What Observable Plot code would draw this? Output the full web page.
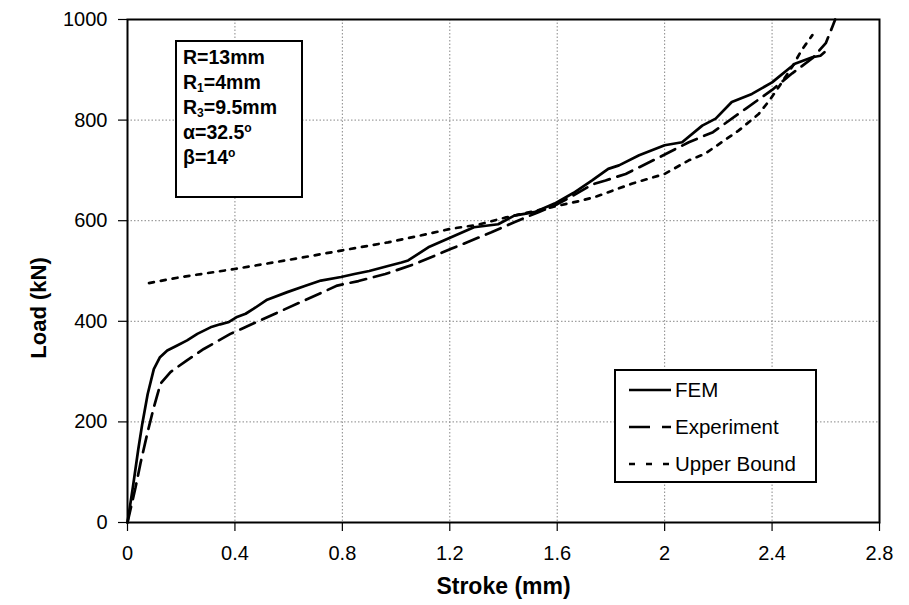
<!DOCTYPE html>
<html>
<head>
<meta charset="utf-8">
<script src="https://cdn.jsdelivr.net/npm/d3@7"></script>
<script src="https://cdn.jsdelivr.net/npm/@observablehq/plot@0.6"></script>
<style>
  html, body { margin: 0; padding: 0; background: #fff; }
  #wrap { position: relative; width: 909px; height: 605px; font-family: Arial, "Liberation Sans", sans-serif; }
  #params { position: absolute; left: 175px; top: 40px; width: 118px; height: 151px; border: 2px solid #000; background: #fff;
            font-weight: bold; font-size: 19.5px; line-height: 25px; padding: 3px 0 0 6px; box-sizing: content-box; color: #000; }
  #params div { white-space: nowrap; }
  #params sub { font-size: 0.62em; vertical-align: -0.25em; line-height: 0; }
  #params sup { font-size: 0.62em; vertical-align: 0.55em; line-height: 0; }
  #legend { position: absolute; left: 614px; top: 369px; width: 199px; height: 110px; border: 2px solid #000; background: #fff; color: #000; font-size: 20.5px; }
  #legend .row { position: absolute; left: 13px; height: 24px; display: flex; align-items: center; white-space: nowrap; }
  #legend svg { margin-right: 4px; }
</style>
</head>
<body>
<div id="wrap"></div>
<script>
// ---- data ----
const femStroke = [0, 0.02, 0.04, 0.055, 0.075, 0.098, 0.12, 0.148, 0.185, 0.222, 0.26, 0.309, 0.345, 0.375, 0.405, 0.44, 0.47, 0.52, 0.595, 0.66, 0.72, 0.795, 0.845, 0.9, 0.97, 1.02, 1.045, 1.12, 1.205, 1.29, 1.38, 1.44, 1.515, 1.59, 1.66, 1.73, 1.79, 1.83, 1.905, 2.0, 2.065, 2.14, 2.19, 2.25, 2.325, 2.4, 2.485, 2.55, 2.58, 2.595];
const femLoad   = [0, 70, 145, 196, 255, 305, 328, 342, 352, 362, 375, 388, 394, 398, 408, 415, 425, 443, 458, 470, 481, 488, 494, 500, 510, 517, 521, 547, 567, 587, 593, 610, 617, 634, 655, 680, 703, 710, 730, 750, 756, 789, 803, 836, 852, 875, 912, 925, 928, 935];

const expStroke = [0, 0.03, 0.048, 0.075, 0.098, 0.123, 0.16, 0.22, 0.284, 0.383, 0.495, 0.644, 0.781, 0.86, 0.96, 1.07, 1.205, 1.355, 1.44, 1.53, 1.59, 1.66, 1.73, 1.78, 1.855, 1.98, 2.09, 2.18, 2.3, 2.4, 2.475, 2.55, 2.6, 2.625, 2.635];
const expLoad   = [0, 70, 117, 180, 229, 276, 299, 322, 345, 375, 402, 438, 471, 480, 494, 514, 544, 577, 597, 617, 630, 650, 672, 680, 693, 726, 756, 776, 822, 860, 893, 923, 953, 986, 1000];

const ubStroke = [0.08, 0.2, 0.4, 0.6, 0.8, 0.97, 1.095, 1.205, 1.305, 1.405, 1.58, 1.69, 1.74, 1.88, 2.0, 2.09, 2.15, 2.275, 2.35, 2.39, 2.425, 2.475, 2.51, 2.55];
const ubLoad   = [476, 488, 504, 522, 541, 557, 571, 584, 592, 606, 627, 640, 647, 674, 693, 720, 733, 779, 812, 839, 866, 906, 939, 969];

const xTicks = [0, 0.4, 0.8, 1.2, 1.6, 2, 2.4, 2.8];
const yTicks = [0, 200, 400, 600, 800, 1000];
const seriesNames = ["FEM", "Experiment", "Upper Bound"];
const xTitle = "Stroke (mm)";
const yTitle = "Load (kN)";

const toRows = (xs, ys) => xs.map((x, i) => ({stroke: x, load: ys[i]}));
const fem = toRows(femStroke, femLoad);
const exp = toRows(expStroke, expLoad);
const ub  = toRows(ubStroke, ubLoad);

const styles = [
  {dash: null, data: fem},
  {dash: "16,8", data: exp},
  {dash: "5,7", data: ub}
];

const gridStyle = {stroke: "#888", strokeOpacity: 1, strokeWidth: 1, strokeDasharray: "1.5,2"};

const chart = Plot.plot({
  width: 909,
  height: 605,
  marginLeft: 127,
  marginRight: 30,
  marginTop: 19,
  marginBottom: 83,
  style: {fontFamily: "Arial, 'Liberation Sans', sans-serif", background: "#fff", color: "#000"},
  x: {domain: [0, 2.8]},
  y: {domain: [0, 1000]},
  marks: [
    Plot.gridX(xTicks.slice(1, -1), gridStyle),
    Plot.gridY(yTicks.slice(1, -1), gridStyle),
    ...styles.map(s => Plot.line(s.data, {x: "stroke", y: "load", stroke: "#000", strokeWidth: 2.7, strokeDasharray: s.dash, strokeLinejoin: "round"})),
    Plot.frame({stroke: "#000", strokeWidth: 2}),
    Plot.axisX(xTicks, {tickSize: 9, tickPadding: 14, fontSize: 20, stroke: "#000", strokeWidth: 1.2, label: null,
      tickFormat: d => String(+d.toFixed(1))}),
    Plot.axisY(yTicks, {tickSize: 9, tickPadding: 11, fontSize: 20, stroke: "#000", strokeWidth: 1.2, label: null,
      tickFormat: d => String(d)}),
    Plot.text([xTitle], {frameAnchor: "bottom", lineAnchor: "middle", dy: 64, text: d => d, fontSize: 23, fontWeight: "bold", fill: "#000"}),
    Plot.text([yTitle], {frameAnchor: "left", textAnchor: "middle", lineAnchor: "middle", dx: -89, dy: 37, rotate: -90, text: d => d, fontSize: 22, fontWeight: "bold", fill: "#000"})
  ]
});

const wrap = document.getElementById("wrap");
wrap.appendChild(chart);

// parameter box
const params = document.createElement("div");
params.id = "params";
params.innerHTML = [
  "R=13mm",
  "R<sub>1</sub>=4mm",
  "R<sub>3</sub>=9.5mm",
  "α=32.5<sup>o</sup>",
  "β=14<sup>o</sup>"
].map(t => `<div>${t}</div>`).join("");
wrap.appendChild(params);

// legend
const legend = document.createElement("div");
legend.id = "legend";
const rowTops = [7, 44, 81];
seriesNames.forEach((name, i) => {
  const row = document.createElement("div");
  row.className = "row";
  row.style.top = rowTops[i] + "px";
  const legendDash = i === 1 ? "21,12" : (i === 2 ? "6,11" : null);
  row.innerHTML = `<svg width="42" height="10"><line x1="0" x2="42" y1="5" y2="5" stroke="#000" stroke-width="2.7" ${legendDash ? `stroke-dasharray="${legendDash}"` : ""}/></svg><span>${name}</span>`;
  legend.appendChild(row);
});
wrap.appendChild(legend);
</script>
</body>
</html>
